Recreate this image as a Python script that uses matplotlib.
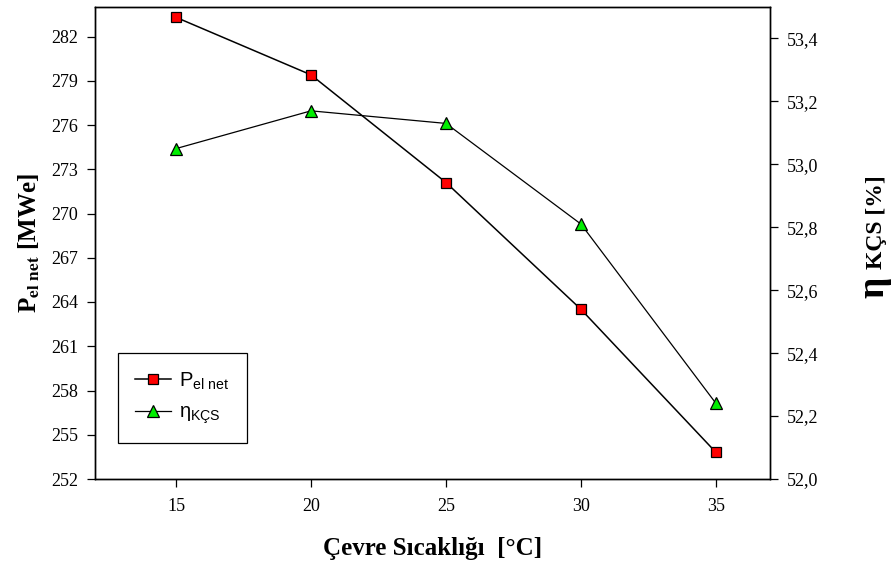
import matplotlib
matplotlib.use("Agg")
import matplotlib.pyplot as plt
from matplotlib.ticker import FuncFormatter

temps = [15, 20, 25, 30, 35]
p_el_net = [283.3, 279.4, 272.1, 263.5, 253.8]
eta_kcs = [53.05, 53.17, 53.13, 52.81, 52.24]

left_ticks = [252, 255, 258, 261, 264, 267, 270, 273, 276, 279, 282]
right_ticks = [52.0, 52.2, 52.4, 52.6, 52.8, 53.0, 53.2, 53.4]

plt.rcParams['font.family'] = ['Liberation Serif', 'DejaVu Serif']
plt.rcParams['mathtext.fontset'] = 'custom'
plt.rcParams['mathtext.rm'] = 'Liberation Sans'
plt.rcParams['mathtext.it'] = 'Liberation Sans:italic'
plt.rcParams['mathtext.bf'] = 'Liberation Sans:bold'

fig = plt.figure(figsize=(8.96, 5.69), dpi=100)
ax = fig.add_axes([95/896, 1 - 479/569, 675/896, 472/569])
ax2 = ax.twinx()

l1, = ax.plot(temps, p_el_net, color='black', lw=1.1, marker='s', ms=7,
              mfc='red', mec='black', mew=0.9, label=r'P$_{\mathrm{el\ net}}$', zorder=3)
l2, = ax2.plot(temps, eta_kcs, color='black', lw=0.9, marker='^', ms=9,
               mfc='#00ee00', mec='black', mew=0.9, label=r'η$_{\mathrm{KÇS}}$', zorder=3)

ax.set_xlim(12, 37)
ax.set_ylim(252, 284)
ax2.set_ylim(52.0, 53.5)
ax.set_xticks(temps)
ax.set_yticks(left_ticks)
ax2.set_yticks(right_ticks)
ax2.yaxis.set_major_formatter(FuncFormatter(lambda v, p: f'{v:.1f}'.replace('.', ',')))

for a in (ax, ax2):
    for s in a.spines.values():
        s.set_linewidth(1.0)
ax.tick_params(axis='both', direction='out', length=6, width=0.9, labelsize=13, pad=6)
ax2.tick_params(axis='y', direction='out', length=6, width=0.9, labelsize=13, pad=6)
ax.tick_params(axis='x', pad=8)

ax.set_xlabel('Çevre Sıcaklığı  [°C]', fontsize=18, fontweight='bold')
ax.xaxis.set_label_coords(0.5, -0.122)
ax.set_ylabel(r'P$_{\mathbf{el\ net}}$ [MWe]', fontsize=18, fontweight='bold',
              math_fontfamily='stix')
ax.yaxis.set_label_coords(-0.078, 0.50)

fig.text(874/896, 1 - 287/569, 'η', rotation=90, fontsize=27, fontweight='bold',
         ha='center', va='center')
fig.text(876/896, 1 - 222/569, 'KÇS [%]', rotation=90, fontsize=17, fontweight='bold',
         ha='center', va='center')

leg = ax.legend(handles=[l1, l2], loc='lower left', bbox_to_anchor=(0.034, 0.076),
                borderaxespad=0, fancybox=False, edgecolor='black', framealpha=1,
                prop={'family': 'Liberation Sans', 'size': 14.5}, handlelength=1.8,
                handletextpad=0.4, borderpad=0.85, labelspacing=0.55)
leg.get_frame().set_linewidth(0.9)
leg.set_zorder(10)

fig.savefig('out.png', dpi=100)
